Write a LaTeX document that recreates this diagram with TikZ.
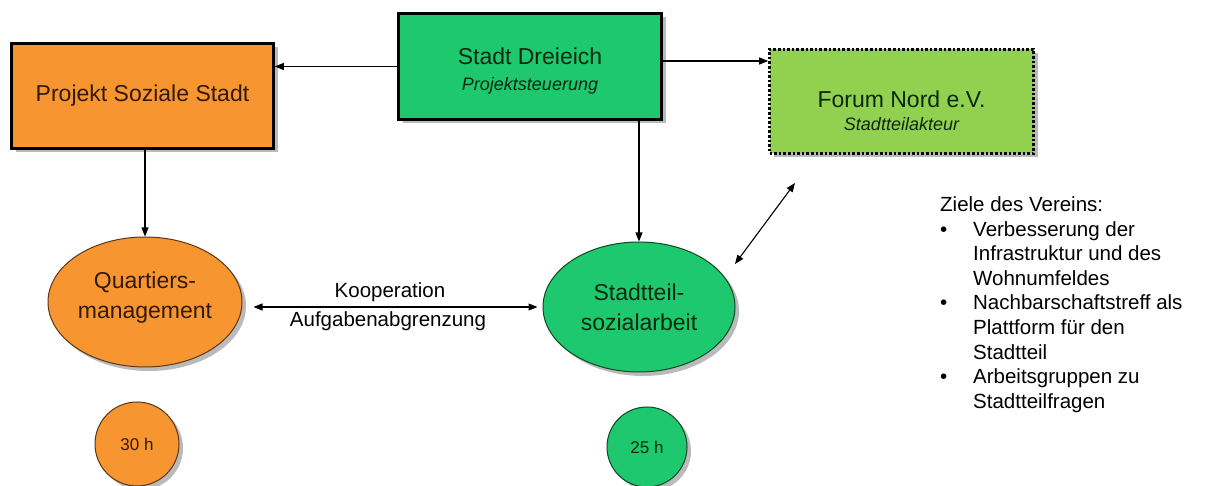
\documentclass[tikz,border=0pt]{standalone}
\usepackage{fontspec}
\setmainfont{Liberation Sans}
\usetikzlibrary{shadows,arrows.meta,shapes.geometric}
\definecolor{orangef}{RGB}{247,150,48}
\definecolor{greenf}{RGB}{30,200,110}
\definecolor{lgreenf}{RGB}{146,208,80}
\definecolor{txtbrown}{RGB}{50,25,10}
\definecolor{txtgreen}{RGB}{10,40,15}
\definecolor{orangeb}{RGB}{90,55,25}
\definecolor{greenb}{RGB}{15,70,35}
\begin{document}
\begin{tikzpicture}[x=1pt,y=-1pt,
  shad/.style={drop shadow={shadow xshift=4pt,shadow yshift=-4pt,fill=black!45,opacity=0.6}},
  rbox/.style={draw=black,line width=2.6pt,inner sep=0pt,align=center,shad,
    font=\fontsize{23}{26}\selectfont},
  ell/.style={ellipse,line width=1pt,inner sep=0pt,align=center,shad,
    font=\fontsize{23}{30}\selectfont},
  circ/.style={circle,line width=1pt,inner sep=0pt,shad,font=\fontsize{17}{20}\selectfont},
  arr/.style={-{Triangle[length=9pt,width=7pt]},line width=1.1pt},
  darr/.style={{Triangle[length=9pt,width=7pt]}-{Triangle[length=9pt,width=7pt]},line width=1.1pt},
  lbl/.style={font=\fontsize{20.5}{24}\selectfont}]
\useasboundingbox[fill=white] (0,0) rectangle (1216,486);

\node[rbox,fill=orangef,text=txtbrown,minimum width=262pt,minimum height=105pt] (pss) at (142.5,96)
  {Projekt Soziale Stadt};
\node[rbox,fill=greenf,text=txtgreen,minimum width=263pt,minimum height=106pt] (sd) at (530,66.5)
  {\rule{0pt}{25pt}Stadt Dreieich\\{\fontsize{18}{20}\selectfont\itshape Projektsteuerung}};
\node[rbox,dash pattern=on 2.6pt off 2pt,fill=lgreenf,text=txtgreen,
  minimum width=264pt,minimum height=104pt] (fn) at (901.5,101.5)
  {\rule{0pt}{35pt}Forum Nord e.V.\\[-3pt]{\fontsize{18}{20}\selectfont\itshape Stadtteilakteur}};

\node[ell,draw=orangeb,fill=orangef,text=txtbrown,minimum width=194pt,minimum height=130pt] (qm) at (145,302)
  {Quartiers-\\management\rule[-14pt]{0pt}{1pt}};
\node[ell,draw=greenb,fill=greenf,text=txtgreen,minimum width=192pt,minimum height=130pt] (ssa) at (639,307)
  {Stadtteil-\\sozialarbeit};

\node[circ,draw=orangeb,fill=orangef,text=txtbrown,minimum size=84pt] (c30) at (137,444) {30 h};
\node[circ,draw=greenb,fill=greenf,text=txtgreen,minimum size=80pt] (c25) at (647,447) {25 h};

\draw[arr] (sd.west) -- (sd.west -| pss.east);
\draw[arr] ([yshift=5.5pt]sd.east) -- ([yshift=5.5pt]sd.east -| fn.west);
\draw[arr] (ssa.north |- sd.south) -- (ssa.north);
\draw[arr] (qm.north |- pss.south) -- (qm.north);
\draw[darr,shorten <=11pt,shorten >=5pt] ([yshift=-5pt]qm.east) -- (ssa.west);
\coordinate (d1) at (795,183);
\coordinate (d2) at (735,264);
\draw[darr] (d1) -- (d2);

\node[lbl] (koop) at (390,292) {Kooperation};
\node[lbl] (aufg) at (388,321) {Aufgabenabgrenzung};

\node[anchor=north west,inner sep=0pt,font=\fontsize{20.5}{24.6}\selectfont] (ziele) at (940,194)
{\begin{tabular}{@{}p{33pt}@{}l@{}}
\multicolumn{2}{@{}l@{}}{Ziele des Vereins:}\\
\textbullet & Verbesserung der\\
 & Infrastruktur und des\\
 & Wohnumfeldes\\
\textbullet & Nachbarschaftstreff als\\
 & Plattform für den\\
 & Stadtteil\\
\textbullet & Arbeitsgruppen zu\\
 & Stadtteilfragen
\end{tabular}};
\end{tikzpicture}
\end{document}
